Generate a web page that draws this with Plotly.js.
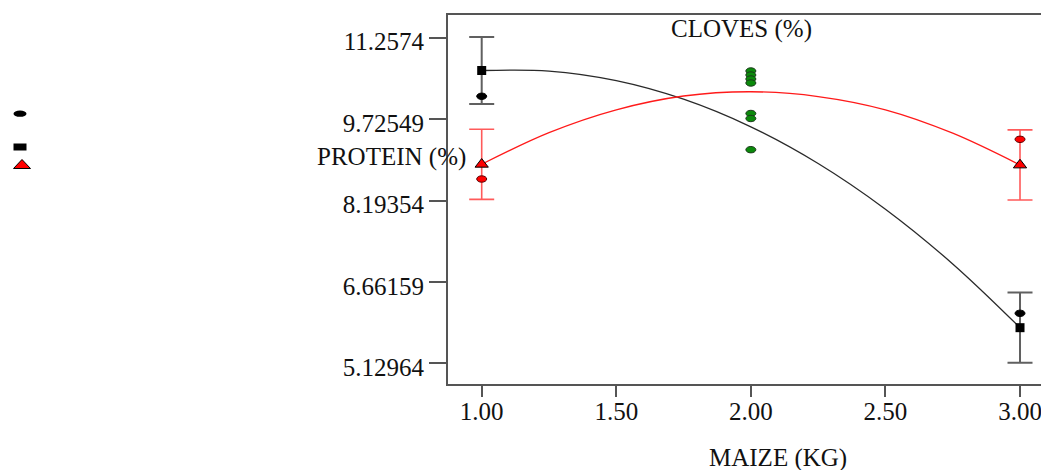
<!DOCTYPE html>
<html>
<head>
<meta charset="utf-8">
<script src="https://cdn.plot.ly/plotly-3.0.1.min.js"></script>
<style>
  html, body { margin: 0; padding: 0; background: #fff; }
  #chart { width: 1041px; height: 470px; }
</style>
</head>
<body>
<div id="chart"></div>
<script>
// Maize quantity (kg) on the x axis
const maizeLevels = [1, 3];

// Protein series: group means, replicate observations and error half-widths
const proteinMean = [10.64, 5.80];
const proteinObs = [10.155, 6.07];
const proteinErr = [0.63, 0.66];

// Second protein series (red): means, replicate observations, error half-widths
const redMean = [8.875, 8.862];
const redObs = [8.598, 9.345];
const redErr = [0.66, 0.66];

// Cloves readings observed at 2 kg maize
const clovesX = [2, 2, 2, 2, 2, 2, 2];
const clovesY = [10.631, 10.555, 10.480, 10.405, 9.831, 9.737, 9.150];

// Fitted trend curves
const curveX = [1, 1.25, 1.5, 1.75, 2, 2.25, 2.5, 2.75, 3];
const blackCurve = [10.64, 10.63, 10.45, 10.10, 9.58, 8.89, 8.03, 7.00, 5.80];
const redCurve = [8.875, 9.47, 9.90, 10.16, 10.24, 10.15, 9.90, 9.46, 8.862];

// Axis ticks
const xTickVals = [1, 1.5, 2, 2.5, 3];
const xTickText = ['1.00', '1.50', '2.00', '2.50', '3.00'];
const yTickVals = [5.12964, 6.66159, 8.19354, 9.72549, 11.2574];
const yTickText = ['5.12964', '6.66159', '8.19354', '9.72549', '11.2574'];

// Plot box geometry (pixels)
const W = 1041, H = 470;
const M = { l: 448, r: 0, t: 15, b: 86 };
const plotW = W - M.l - M.r, plotH = H - M.t - M.b;
const px = x => (x - M.l) / plotW;
const py = y => (H - M.b - y) / plotH;

const serif = 'Liberation Serif, Times New Roman, serif';
const textCol = '#111';

const traces = [
  {
    x: curveX, y: blackCurve, type: 'scatter', mode: 'lines',
    line: { color: '#2a2a2a', width: 1.3, shape: 'spline' },
    hoverinfo: 'skip', showlegend: false
  },
  {
    x: curveX, y: redCurve, type: 'scatter', mode: 'lines',
    line: { color: '#ff1a1a', width: 1.3, shape: 'spline' },
    hoverinfo: 'skip', showlegend: false
  },
  {
    x: maizeLevels, y: proteinMean, type: 'scatter', mode: 'markers',
    marker: { symbol: 'square', size: 9, color: '#000' },
    error_y: { type: 'data', array: proteinErr, visible: true, color: '#606060', thickness: 2, width: 12.5 },
    showlegend: false
  },
  {
    x: maizeLevels, y: redMean, type: 'scatter', mode: 'markers',
    marker: { symbol: 'triangle-up', size: 11.5, color: '#ff0000', line: { color: '#000', width: 1 } },
    error_y: { type: 'data', array: redErr, visible: true, color: '#ff5a5a', thickness: 1.6, width: 12.5 },
    showlegend: false
  }
];

// Elliptical observation markers, anchored to data coordinates
function ellipse(x, y, fill, edge) {
  return {
    type: 'circle', xref: 'x', yref: 'y',
    xsizemode: 'pixel', ysizemode: 'pixel',
    xanchor: x, yanchor: y,
    x0: -5, x1: 5, y0: -3.2, y1: 3.2,
    fillcolor: fill, line: { color: edge, width: 1 }
  };
}

const shapes = [];
maizeLevels.forEach((x, i) => shapes.push(ellipse(x, proteinObs[i], '#000', '#000')));
maizeLevels.forEach((x, i) => shapes.push(ellipse(x, redObs[i], '#ff0000', '#5a0000')));
clovesX.forEach((x, i) => shapes.push(ellipse(x, clovesY[i], '#0b8a0b', '#1c3a1c')));

// Key glyphs at the far left
shapes.push({
  type: 'circle', xref: 'paper', yref: 'paper',
  x0: px(13.5), x1: px(26.5), y0: py(116.8), y1: py(110.6),
  fillcolor: '#000', line: { color: '#000', width: 0 }
});
shapes.push({
  type: 'rect', xref: 'paper', yref: 'paper',
  x0: px(13.5), x1: px(26.5), y0: py(150.5), y1: py(143.5),
  fillcolor: '#000', line: { color: '#000', width: 0 }
});
shapes.push({
  type: 'path', xref: 'paper', yref: 'paper',
  path: 'M ' + px(13.5) + ' ' + py(168.5) + ' L ' + px(30.5) + ' ' + py(168.5) +
        ' L ' + px(22) + ' ' + py(159.5) + ' Z',
  fillcolor: '#ff0000', line: { color: '#000', width: 1 }
});

const annotations = [
  {
    text: 'PROTEIN (%)', xref: 'paper', yref: 'paper',
    x: px(391), y: py(157), xanchor: 'center', yanchor: 'middle',
    showarrow: false, font: { family: serif, size: 25, color: textCol }
  },
  {
    text: 'CLOVES (%)', xref: 'paper', yref: 'paper',
    x: px(741.5), y: py(29), xanchor: 'center', yanchor: 'middle',
    showarrow: false, font: { family: serif, size: 25, color: textCol }
  },
  {
    text: 'MAIZE (KG)', xref: 'paper', yref: 'paper',
    x: px(777.5), y: py(458), xanchor: 'center', yanchor: 'middle',
    showarrow: false, font: { family: serif, size: 25, color: textCol }
  }
];

const layout = {
  width: W, height: H,
  margin: { l: M.l, r: M.r, t: M.t, b: M.b, pad: 0 },
  paper_bgcolor: '#fff', plot_bgcolor: '#fff',
  showlegend: false,
  font: { family: serif, size: 25, color: textCol },
  xaxis: {
    range: [0.8748, 3.078],
    tickmode: 'array', tickvals: xTickVals, ticktext: xTickText,
    ticks: 'outside', ticklen: 11, tickwidth: 2, tickcolor: '#555',
    showline: true, linecolor: '#555', linewidth: 2, mirror: true,
    showgrid: false, zeroline: false,
    ticklabeloverflow: 'allow',
    ticklabelstandoff: -7,
    tickfont: { family: serif, size: 25, color: textCol }
  },
  yaxis: {
    range: [4.7401, 11.6846],
    tickmode: 'array', tickvals: yTickVals, ticktext: yTickText,
    ticks: 'outside', ticklen: 17, tickwidth: 2, tickcolor: '#555',
    showline: true, linecolor: '#555', linewidth: 2,
    showgrid: false, zeroline: false,
    ticklabelshift: 4,
    tickfont: { family: serif, size: 25, color: textCol }
  },
  shapes: shapes,
  annotations: annotations
};

Plotly.newPlot('chart', traces, layout, { staticPlot: true, displayModeBar: false });
</script>
</body>
</html>
